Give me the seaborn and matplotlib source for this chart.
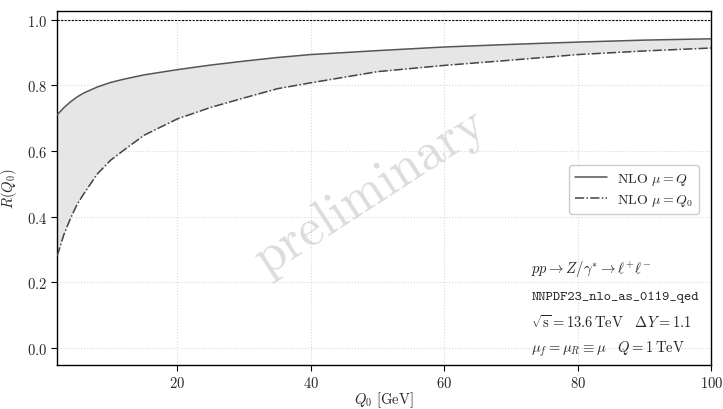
import numpy as np
import pandas as pd
import matplotlib
matplotlib.use("Agg")
import matplotlib.pyplot as plt
import seaborn as sns

# Q0 scan points [GeV] and ratio R(Q0) for the two scale choices
q0 = [2, 3, 4, 5, 6, 8, 10, 12, 15, 20, 25, 30, 35, 40, 50, 60, 70, 80, 90, 100]
r_mu_q = [0.710, 0.732, 0.750, 0.765, 0.777, 0.795, 0.809, 0.819, 0.832, 0.848,
          0.862, 0.874, 0.885, 0.894, 0.906, 0.917, 0.925, 0.932, 0.938, 0.942]
r_mu_q0 = [0.280, 0.345, 0.395, 0.438, 0.470, 0.530, 0.572, 0.603, 0.648, 0.698,
           0.733, 0.762, 0.790, 0.808, 0.842, 0.861, 0.877, 0.894, 0.905, 0.914]

labels = [r"NLO $\mu = Q$", r"NLO $\mu = Q_0$"]

sns.set_theme(style="ticks")
plt.rcParams.update({
    "font.family": "serif",
    "font.serif": ["cmr10"],
    "mathtext.fontset": "cm",
    "axes.formatter.use_mathtext": True,
    "axes.unicode_minus": False,
    "font.size": 10.5,
    "xtick.labelsize": 10.5,
    "ytick.labelsize": 10.5,
})

df = pd.DataFrame({
    "Q0": q0 * 2,
    "R": r_mu_q + r_mu_q0,
    "scale": [labels[0]] * len(q0) + [labels[1]] * len(q0),
})

fig, ax = plt.subplots(figsize=(7.23, 4.10), dpi=100)
fig.subplots_adjust(left=0.079, right=0.984, top=0.971, bottom=0.107)

ax.fill_between(q0, r_mu_q0, r_mu_q, color="#e6e6e6", zorder=1, lw=0)
sns.lineplot(data=df, x="Q0", y="R", hue="scale", style="scale",
             palette=["#555555", "#444444"],
             dashes=[(None, None), (6, 1.5, 1, 1.5)],
             linewidth=1.1, ax=ax, zorder=3)
for line, ls in zip(ax.get_lines(), ["-", (0, (6, 1.5, 1, 1.5))]):
    line.set_linestyle(ls)

ax.axhline(1.0, color="black", lw=0.8, ls=(0, (2, 1.2)), zorder=2)

ax.set_xlim(2, 100)
ax.set_ylim(-0.052, 1.027)
ax.set_xticks([20, 40, 60, 80, 100])
ax.set_yticks([0.0, 0.2, 0.4, 0.6, 0.8, 1.0])
ax.grid(True, color="#d8d8d8", ls=":", lw=0.8, zorder=0)
ax.set_axisbelow(True)
for s in ax.spines.values():
    s.set_color("black")
    s.set_linewidth(1.0)
ax.tick_params(length=4, width=0.8, color="black", pad=3)

ax.set_xlabel(r"$Q_0$ [GeV]", fontsize=10.5, labelpad=0)
ax.set_ylabel(r"$R(Q_0)$", fontsize=10.5, labelpad=6)

h, l = ax.get_legend_handles_labels()
ax.legend(h, l, loc="upper right", bbox_to_anchor=(0.992, 0.585),
          fontsize=10, frameon=True, fancybox=True, framealpha=1,
          edgecolor="#cccccc", handlelength=2.3, borderpad=0.45,
          labelspacing=0.35, handletextpad=0.7)

ax.text(0.48, 0.49, "preliminary", transform=ax.transAxes, fontsize=38,
        color="#d4d4d4", alpha=0.8, rotation=33, ha="center", va="center",
        zorder=1)

tx = 0.725
ax.text(tx, 0.273, r"$pp \rightarrow Z/\gamma^{*} \rightarrow \ell^{+}\ell^{-}$",
        transform=ax.transAxes, fontsize=10.5, va="center")
ax.text(tx, 0.194, "NNPDF23_nlo_as_0119_qed", transform=ax.transAxes,
        fontsize=10, family="cmtt10", va="center")
ax.text(tx, 0.124, r"$\sqrt{\mathrm{s}} = 13.6\,\mathrm{TeV}\quad \Delta Y = 1.1$",
        transform=ax.transAxes, fontsize=10.5, va="center")
ax.text(tx, 0.048, r"$\mu_f = \mu_R \equiv \mu \quad Q = 1\,\mathrm{TeV}$",
        transform=ax.transAxes, fontsize=10.5, va="center")

fig.savefig("out.png", dpi=100)
